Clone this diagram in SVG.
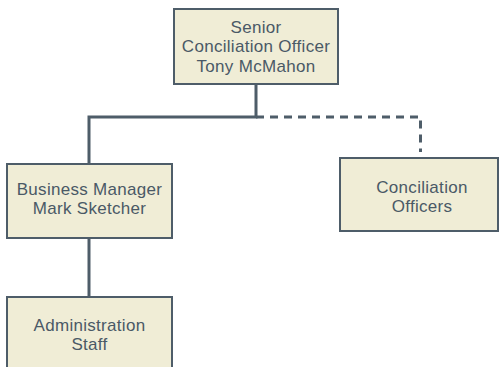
<svg xmlns="http://www.w3.org/2000/svg" width="499" height="367" viewBox="0 0 499 367">
<style>
.box{fill:#f0edd6;stroke:#4e5d69;stroke-width:2}
.t{font-family:"Liberation Sans",Arial,sans-serif;font-size:17px;letter-spacing:0.3px;fill:#4a5966;text-anchor:middle}
.c{fill:none;stroke:#4e5d69;stroke-width:3}
.d{stroke-dasharray:8 6}
</style>
<rect width="499" height="367" fill="#ffffff"/>
<g id="connectors">
<path class="c" d="M256 84 V117 H89 V164"/>
<path class="c d" d="M256 117 H420.5 V152"/>
<path class="c" d="M89 238 V297"/>
</g>
<g id="senior">
<rect class="box" x="174" y="9" width="164" height="75"/>
<text class="t" x="256" y="32.5">Senior<tspan x="256" dy="19.6">Conciliation Officer</tspan><tspan x="256" dy="19.6">Tony McMahon</tspan></text>
</g>
<g id="business">
<rect class="box" x="7" y="164" width="165" height="74"/>
<text class="t" x="89.5" y="194.5">Business Manager<tspan x="89.5" dy="19.6">Mark Sketcher</tspan></text>
</g>
<g id="officers">
<rect class="box" x="340" y="158" width="158" height="73"/>
<text class="t" x="422" y="192.5">Conciliation<tspan x="422" dy="19.6">Officers</tspan></text>
</g>
<g id="admin">
<rect class="box" x="7" y="297" width="165" height="80"/>
<text class="t" x="89.5" y="330.5">Administration<tspan x="89.5" dy="19.6">Staff</tspan></text>
</g>
</svg>
